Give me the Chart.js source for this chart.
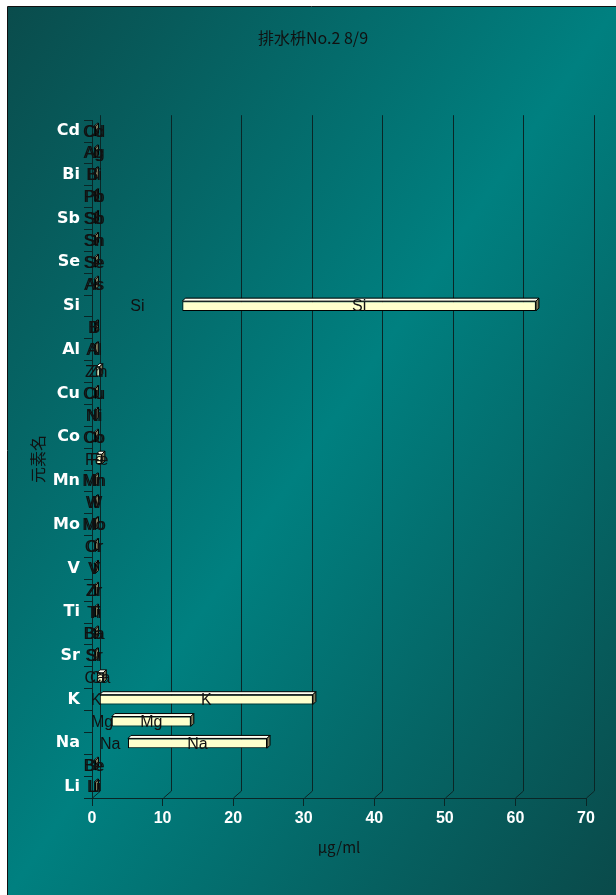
<!DOCTYPE html>
<html>
<head>
<meta charset="utf-8">
<script src="https://cdn.jsdelivr.net/npm/chart.js@4.4.1/dist/chart.umd.min.js"></script>
<style>
  html, body { margin: 0; padding: 0; background: #fff; }
  #wrap { width: 616px; height: 895px; }
</style>
</head>
<body>
<div id="wrap"><canvas id="chart" width="616" height="895"></canvas></div>
<script>
// element names, bottom (Li) to top (Cd)
const elements = ['Li','Be','Na','Mg','K','Ca','Sr','Ba','Ti','Zr','V','Cr','Mo','W','Mn','Fe',
                  'Co','Ni','Cu','Zn','Al','B','Si','As','Se','Sn','Sb','Pb','Bi','Ag','Cd'];
// where each bar starts (µg/ml)
const rangeStart = [0.3,0.3,5.1,2.8,1.1,0.7,0.3,0.3,0.3,0.3,0.3,0.3,0.3,0.3,0.3,0.6,
                    0.3,0.3,0.3,0.6,0.3,0.3,12.8,0.3,0.3,0.3,0.3,0.3,0.3,0.3,0.3];
// bar length (µg/ml)
const rangeLength = [0.2,0.2,19.7,11.2,30.2,0.9,0.2,0.2,0.2,0.2,0.2,0.2,0.2,0.2,0.2,0.8,
                     0.2,0.2,0.2,0.5,0.2,0.2,50.1,0.2,0.2,0.2,0.2,0.2,0.2,0.2,0.2];
const xTicks = [0, 10, 20, 30, 40, 50, 60, 70];

const lineColor = '#0a2626';

const background = {
  id: 'background',
  beforeDraw(chart) {
    const { ctx, width, height } = chart;
    ctx.save();
    ctx.fillStyle = '#fff';
    ctx.fillRect(0, 0, width, height);
    const x0 = 8, y0 = 7, w = width - x0, h = height - y0;
    const cx = x0 + w / 2, cy = y0 + h / 2;
    const len = Math.sqrt(w * w + h * h);
    const ux = h / len, uy = w / len, half = w * h / len;
    const g = ctx.createLinearGradient(cx - ux * half, cy - uy * half, cx + ux * half, cy + uy * half);
    g.addColorStop(0, '#0a4c4c');
    g.addColorStop(0.5, '#008080');
    g.addColorStop(1, '#0a4a4a');
    ctx.fillStyle = g;
    ctx.fillRect(x0, y0, w, h);
    ctx.strokeStyle = '#111';
    ctx.lineWidth = 1;
    ctx.beginPath();
    ctx.moveTo(7.5, height);
    ctx.lineTo(7.5, 6.5);
    ctx.lineTo(width, 6.5);
    ctx.stroke();
    ctx.restore();
  }
};

// back wall grid lines, pushed back in depth
const wall = {
  id: 'wall',
  beforeDatasetsDraw(chart) {
    const { ctx, chartArea, scales: { x } } = chart;
    ctx.save();
    ctx.strokeStyle = lineColor;
    ctx.lineWidth = 1;
    xTicks.forEach(v => {
      const px = Math.round(x.getPixelForValue(v)) + 0.5;
      ctx.beginPath();
      ctx.moveTo(px, chartArea.bottom);
      ctx.lineTo(px + 8, chartArea.bottom - 7);
      ctx.lineTo(px + 8, chartArea.top - 5);
      ctx.stroke();
    });
    ctx.restore();
  }
};

// top and side faces of the bars + the name labels
const bars3d = {
  id: 'bars3d',
  afterDatasetsDraw(chart) {
    const { ctx } = chart;
    const d = 3;
    ctx.save();
    ctx.lineWidth = 1;
    ctx.strokeStyle = '#000';
    chart.getDatasetMeta(1).data.forEach(bar => {
      const { x, y, base, height } = bar.getProps(['x', 'y', 'base', 'height'], true);
      const top = y - height / 2, bottom = y + height / 2;
      const left = Math.min(x, base), right = Math.max(x, base);
      ctx.beginPath();
      ctx.moveTo(left, top);
      ctx.lineTo(left + d, top - d);
      ctx.lineTo(right + d, top - d);
      ctx.lineTo(right, top);
      ctx.closePath();
      ctx.fillStyle = '#fffff0';
      ctx.fill();
      ctx.stroke();
      ctx.beginPath();
      ctx.moveTo(right, top);
      ctx.lineTo(right + d, top - d);
      ctx.lineTo(right + d, bottom - d);
      ctx.lineTo(right, bottom);
      ctx.closePath();
      ctx.fillStyle = '#7f7c5c';
      ctx.fill();
      ctx.stroke();
    });
    ctx.font = '16px "Liberation Sans", Arial, sans-serif';
    ctx.fillStyle = '#111';
    ctx.textAlign = 'center';
    ctx.textBaseline = 'middle';
    [0, 1].forEach(di => {
      chart.getDatasetMeta(di).data.forEach((bar, i) => {
        const { x, y, base } = bar.getProps(['x', 'y', 'base'], true);
        ctx.fillText(elements[i], (x + base) / 2, y + 1);
      });
    });
    ctx.restore();
  }
};

new Chart(document.getElementById('chart'), {
  type: 'bar',
  data: {
    labels: elements,
    datasets: [
      {
        data: rangeStart,
        backgroundColor: 'rgba(0,0,0,0)',
        borderWidth: 0,
        barPercentage: 0.45,
        categoryPercentage: 1
      },
      {
        data: rangeLength,
        backgroundColor: '#ffffcc',
        borderColor: '#000',
        borderWidth: 1,
        borderSkipped: false,
        barPercentage: 0.45,
        categoryPercentage: 1
      }
    ]
  },
  options: {
    indexAxis: 'y',
    responsive: false,
    animation: false,
    devicePixelRatio: 1,
    layout: { padding: { left: 40, right: 30, top: 0, bottom: 0 } },
    plugins: {
      legend: { display: false },
      tooltip: { enabled: false },
      title: {
        display: true,
        text: '排水枡No.2 8/9',
        color: '#111',
        font: { family: '"Noto Sans CJK JP"', size: 16, weight: 'normal' },
        padding: { top: 28, bottom: 73 }
      }
    },
    scales: {
      x: {
        stacked: true,
        min: 0,
        max: 70,
        afterFit(scale) { scale.height = 97; },
        afterBuildTicks(scale) { scale.ticks = xTicks.map(v => ({ value: v })); },
        grid: { drawOnChartArea: false, tickLength: 8, color: lineColor },
        border: { color: lineColor },
        ticks: {
          color: '#fff',
          padding: 3,
          font: { family: '"Liberation Sans", Arial, sans-serif', size: 16, weight: 'bold' }
        },
        title: {
          display: true,
          text: 'μg/ml',
          color: '#111',
          font: { family: '"Noto Sans CJK JP"', size: 15 },
          padding: { top: 0, bottom: 39 }
        }
      },
      y: {
        stacked: true,
        reverse: true,
        afterFit(scale) { scale.width = 52; },
        grid: { drawOnChartArea: false, tickLength: 8, color: lineColor, offset: true },
        border: { color: lineColor },
        ticks: {
          autoSkip: false,
          color: '#fff',
          padding: 4,
          font: { family: '"DejaVu Sans", Verdana, sans-serif', size: 16, weight: 'bold' },
          callback(value, index) { return index % 2 === 0 ? this.getLabelForValue(value) : ''; }
        },
        title: {
          display: true,
          text: '元素名',
          color: '#111',
          font: { family: '"Noto Sans CJK JP"', size: 16 },
          padding: { top: -11.6, bottom: 0 }
        }
      }
    }
  },
  plugins: [background, wall, bars3d]
});
</script>
</body>
</html>
